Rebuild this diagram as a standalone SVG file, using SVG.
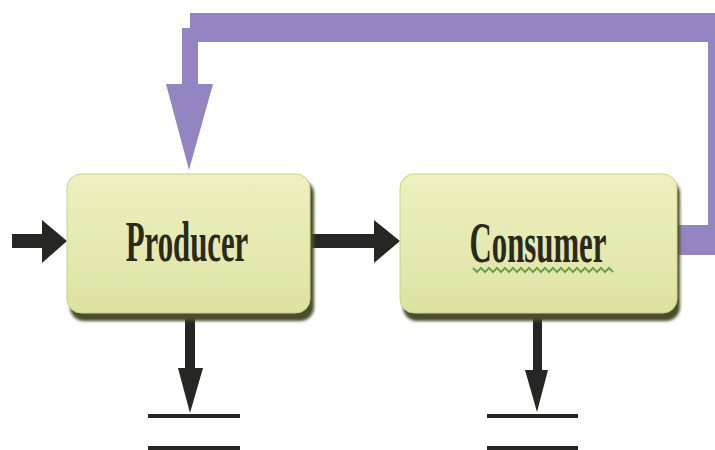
<svg xmlns="http://www.w3.org/2000/svg" width="715" height="450" viewBox="0 0 715 450">
  <defs>
    <linearGradient id="boxFill" x1="0" y1="0" x2="0" y2="1">
      <stop offset="0" stop-color="#eef0c0"/>
      <stop offset="0.5" stop-color="#e6eab2"/>
      <stop offset="1" stop-color="#dde2a2"/>
    </linearGradient>
    <filter id="soft" x="-10%" y="-10%" width="120%" height="130%">
      <feGaussianBlur stdDeviation="1.5"/>
    </filter>
    <style>
      .shadow { fill: #4a4e2c; filter: url(#soft); }
      .box { fill: url(#boxFill); stroke: #d2cf86; stroke-width: 1; }
      .label { font-family: "Liberation Serif", "Times New Roman", serif; font-weight: bold; font-size: 56px; fill: #2a2a1c; text-anchor: middle; }
      .flow { fill: #262622; }
      .feedback { fill: #9485c2; }
      .squiggle { fill: none; stroke: #6f9e4c; stroke-width: 2; }
    </style>
  </defs>

  <rect width="715" height="450" fill="#ffffff"/>

  <!-- connectors -->
  <g id="connectors">
    <!-- feedback loop from Consumer back to Producer -->
    <path class="feedback" d="M677,225 L708,225 L708,42 L198,42 L198,84 L213,84 L189,170 L166,84 L182,84 L182,28 L190,28 L190,13 L715,13 L715,255 L677,255 Z"/>
    <!-- input into Producer -->
    <path class="flow" d="M12,234 L42,234 L42,220 L67,241 L42,263 L42,248 L12,248 Z"/>
    <!-- Producer to Consumer -->
    <path class="flow" d="M312,234 L374,234 L374,220 L400,241 L374,263 L374,248 L312,248 Z"/>
    <!-- Producer output -->
    <path class="flow" d="M185,316 L195,316 L195,368 L203,368 L190,413 L178,368 L185,368 Z"/>
    <rect class="flow" x="148" y="414" width="92" height="4"/>
    <rect class="flow" x="148" y="446" width="92" height="4"/>
    <!-- Consumer output -->
    <path class="flow" d="M533,316 L542,316 L542,370 L548,370 L537,412 L525,370 L533,370 Z"/>
    <rect class="flow" x="487" y="414" width="91" height="4"/>
    <rect class="flow" x="487" y="446" width="91" height="4"/>
  </g>

  <!-- Producer -->
  <g id="producer">
    <rect class="shadow" x="70" y="180" width="244" height="141" rx="14"/>
    <rect class="box" x="67" y="174" width="243" height="139" rx="14"/>
    <text class="label" transform="translate(187,261) scale(0.55,1)">Producer</text>
  </g>

  <!-- Consumer -->
  <g id="consumer">
    <rect class="shadow" x="403" y="180" width="277" height="141" rx="14"/>
    <rect class="box" x="400" y="174" width="277" height="139" rx="14"/>
    <text class="label" transform="translate(538,262) scale(0.55,1)">Consumer</text>
    <path class="squiggle" d="M473,268 l4,4 l4,-4 l4,4 l4,-4 l4,4 l4,-4 l4,4 l4,-4 l4,4 l4,-4 l4,4 l4,-4 l4,4 l4,-4 l4,4 l4,-4 l4,4 l4,-4 l4,4 l4,-4 l4,4 l4,-4 l4,4 l4,-4 l4,4 l4,-4 l4,4 l4,-4 l4,4 l4,-4 l4,4 l4,-4 l4,4 l4,-4 l4,4"/>
  </g>
</svg>
